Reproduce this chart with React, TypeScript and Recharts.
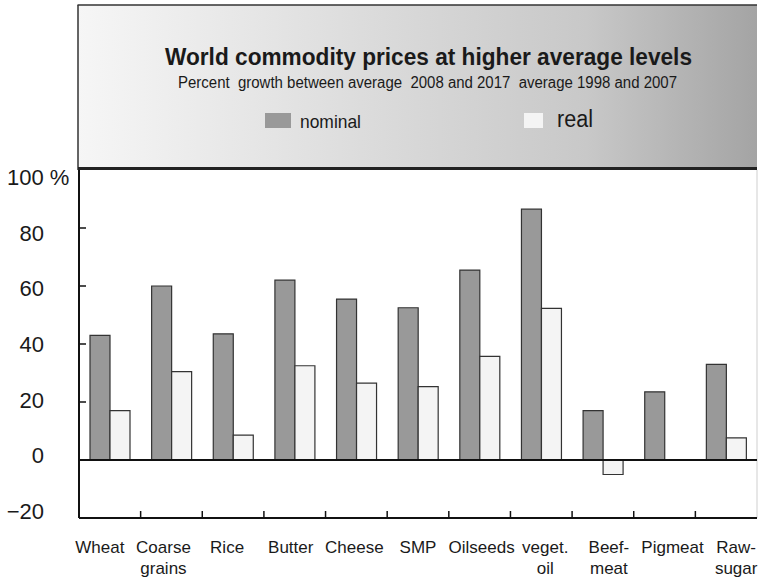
import { BarChart, Bar, XAxis, YAxis, ReferenceLine, Legend } from 'recharts';

// Percent growth, average 2008-2017 vs average 1998-2007
const categories = [
  'Wheat',
  'Coarse\ngrains',
  'Rice',
  'Butter',
  'Cheese',
  'SMP',
  'Oilseeds',
  'veget.\noil',
  'Beef-\nmeat',
  'Pigmeat',
  'Raw-\nsugar',
];
const nominal = [43, 60, 43.5, 62, 55.5, 52.5, 65.5, 86.5, 17, 23.5, 33];
const real = [17, 30.5, 8.6, 32.5, 26.5, 25.3, 35.7, 52.3, -5, null, 7.6];
const yTicks = [-20, 0, 20, 40, 60, 80, 100];

const NOMINAL_COLOR = '#999999';
const REAL_COLOR = '#f4f4f4';
const INK = '#1a1a1a';
const FONT = '"Liberation Sans", Arial, Helvetica, sans-serif';

const W = 758;
const H = 580;
const PLOT_LEFT = 79;
const PLOT_RIGHT = 757;
const PLOT_TOP = 170;
const PLOT_BOTTOM = 518;
const BAND = (PLOT_RIGHT - PLOT_LEFT) / categories.length;

const chartData = categories.map((name, i) => ({
  name,
  nominal: nominal[i],
  real: real[i],
}));

// legend item placement inside the header panel
const legendLayout = [
  { sx: 265, sw: 26, tx: 300, base: 128, size: 19, len: 61 },
  { sx: 524, sw: 19, tx: 557, base: 127, size: 23, len: 36 },
];

function CategoryTick({ x, y, payload }: any) {
  const idx = categories.indexOf(payload.value);
  const lines = String(payload.value).split('\n');
  // labels sit slightly wider apart than the bands
  const lx = x + (idx - (categories.length - 1) / 2) * 2.0;
  return (
    <g>
      {idx > 0 && (
        <line
          x1={x - BAND / 2}
          x2={x - BAND / 2}
          y1={y}
          y2={y - 7}
          stroke="#111"
          strokeWidth={1.5}
        />
      )}
      <text x={lx} y={y + 35} textAnchor="middle" fontSize={17} fill={INK} fontFamily={FONT}>
        {lines.map((l, k) => (
          <tspan key={k} x={lx} dy={k === 0 ? 0 : 21}>
            {l}
          </tspan>
        ))}
      </text>
    </g>
  );
}

function ValueTick({ x, y, payload }: any) {
  const v = payload.value as number;
  const cy = y + (v - 40) * 0.12 + 8;
  const inner = v > 0 && v < 100;
  const label = v === 100 ? '100 %' : v < 0 ? `\u2212${Math.abs(v)}` : String(v);
  return (
    <g>
      {inner && <line x1={x} x2={x + 7} y1={y} y2={y} stroke="#111" strokeWidth={1.5} />}
      <text
        x={v === 100 ? 7 : x - 35}
        y={cy}
        textAnchor={v === 100 ? 'start' : 'end'}
        fontSize={22}
        fill={INK}
        fontFamily={FONT}
        style={{ whiteSpace: 'pre' }}
      >
        {label}
      </text>
    </g>
  );
}

function HeaderLegend({ payload }: any) {
  return (
    <svg width={W} height={PLOT_TOP} style={{ display: 'block' }}>
      {(payload || []).map((entry: any, i: number) => {
        const p = legendLayout[i];
        return (
          <g key={entry.value}>
            <rect x={p.sx} y={113} width={p.sw} height={15} fill={entry.color} />
            <text
              x={p.tx}
              y={p.base}
              fontSize={p.size}
              fill={INK}
              fontFamily={FONT}
              textLength={p.len}
              lengthAdjust="spacingAndGlyphs"
            >
              {entry.value}
            </text>
          </g>
        );
      })}
    </svg>
  );
}

function HeaderPanel() {
  return (
    <svg width={W} height={H} style={{ position: 'absolute', left: 0, top: 0 }}>
      <defs>
        <linearGradient id="headFill" x1="0" x2="1" y1="0" y2="0">
          <stop offset="0" stopColor="#f6f6f6" />
          <stop offset="0.45" stopColor="#dadada" />
          <stop offset="0.75" stopColor="#c8c8c8" />
          <stop offset="1" stopColor="#a4a4a4" />
        </linearGradient>
      </defs>
      <rect x={78} y={5} width={PLOT_RIGHT - 78} height={PLOT_TOP - 5} fill="url(#headFill)" />
      <line x1={77.5} x2={PLOT_RIGHT} y1={5} y2={5} stroke="#333" strokeWidth={1.5} />
      <line x1={78} x2={78} y1={5} y2={PLOT_TOP} stroke="#333" strokeWidth={1.5} />
      <line x1={78} x2={PLOT_RIGHT} y1={168.5} y2={168.5} stroke="#222" strokeWidth={3} />
      <line x1={PLOT_RIGHT} x2={PLOT_RIGHT} y1={PLOT_TOP} y2={PLOT_BOTTOM} stroke="#cfcfcf" strokeWidth={1} />
      <text
        x={165}
        y={65}
        fontSize={23}
        fontWeight="bold"
        fill={INK}
        fontFamily={FONT}
        textLength={527}
        lengthAdjust="spacingAndGlyphs"
      >
        World commodity prices at higher average levels
      </text>
      <text
        x={178}
        y={88}
        fontSize={16}
        fill={INK}
        fontFamily={FONT}
        textLength={499}
        lengthAdjust="spacingAndGlyphs"
        style={{ whiteSpace: 'pre' }}
      >
        {'Percent  growth between average  2008 and 2017  average 1998 and 2007'}
      </text>
    </svg>
  );
}

export default function App() {
  return (
    <div style={{ position: 'absolute', left: 0, top: 0, width: W, height: H, background: '#fff' }}>
      <HeaderPanel />
      <div style={{ position: 'absolute', left: 0, top: 0 }}>
        <BarChart
          width={W}
          height={H}
          data={chartData}
          margin={{ top: PLOT_TOP, right: W - PLOT_RIGHT, bottom: 0, left: 0 }}
          barSize={20}
          barGap={0}
        >
          <XAxis
            dataKey="name"
            interval={0}
            height={H - PLOT_BOTTOM}
            tickLine={false}
            tickSize={0}
            tickMargin={0}
            axisLine={{ stroke: '#111', strokeWidth: 2 }}
            tick={<CategoryTick />}
          />
          <YAxis
            domain={[-20, 100]}
            ticks={yTicks}
            width={PLOT_LEFT}
            tickLine={false}
            tickSize={0}
            tickMargin={0}
            axisLine={{ stroke: '#111', strokeWidth: 2 }}
            tick={<ValueTick />}
          />
          <Legend
            verticalAlign="middle"
            layout="horizontal"
            wrapperStyle={{ position: 'absolute', left: 0, top: 0, width: W, height: PLOT_TOP }}
            content={<HeaderLegend />}
          />
          <Bar
            dataKey="nominal"
            name="nominal"
            fill={NOMINAL_COLOR}
            stroke="#333"
            strokeWidth={1.2}
            isAnimationActive={false}
          />
          <Bar
            dataKey="real"
            name="real"
            fill={REAL_COLOR}
            stroke="#333"
            strokeWidth={1.2}
            isAnimationActive={false}
          />
          <ReferenceLine y={0} stroke="#111" strokeWidth={2} />
        </BarChart>
      </div>
    </div>
  );
}
